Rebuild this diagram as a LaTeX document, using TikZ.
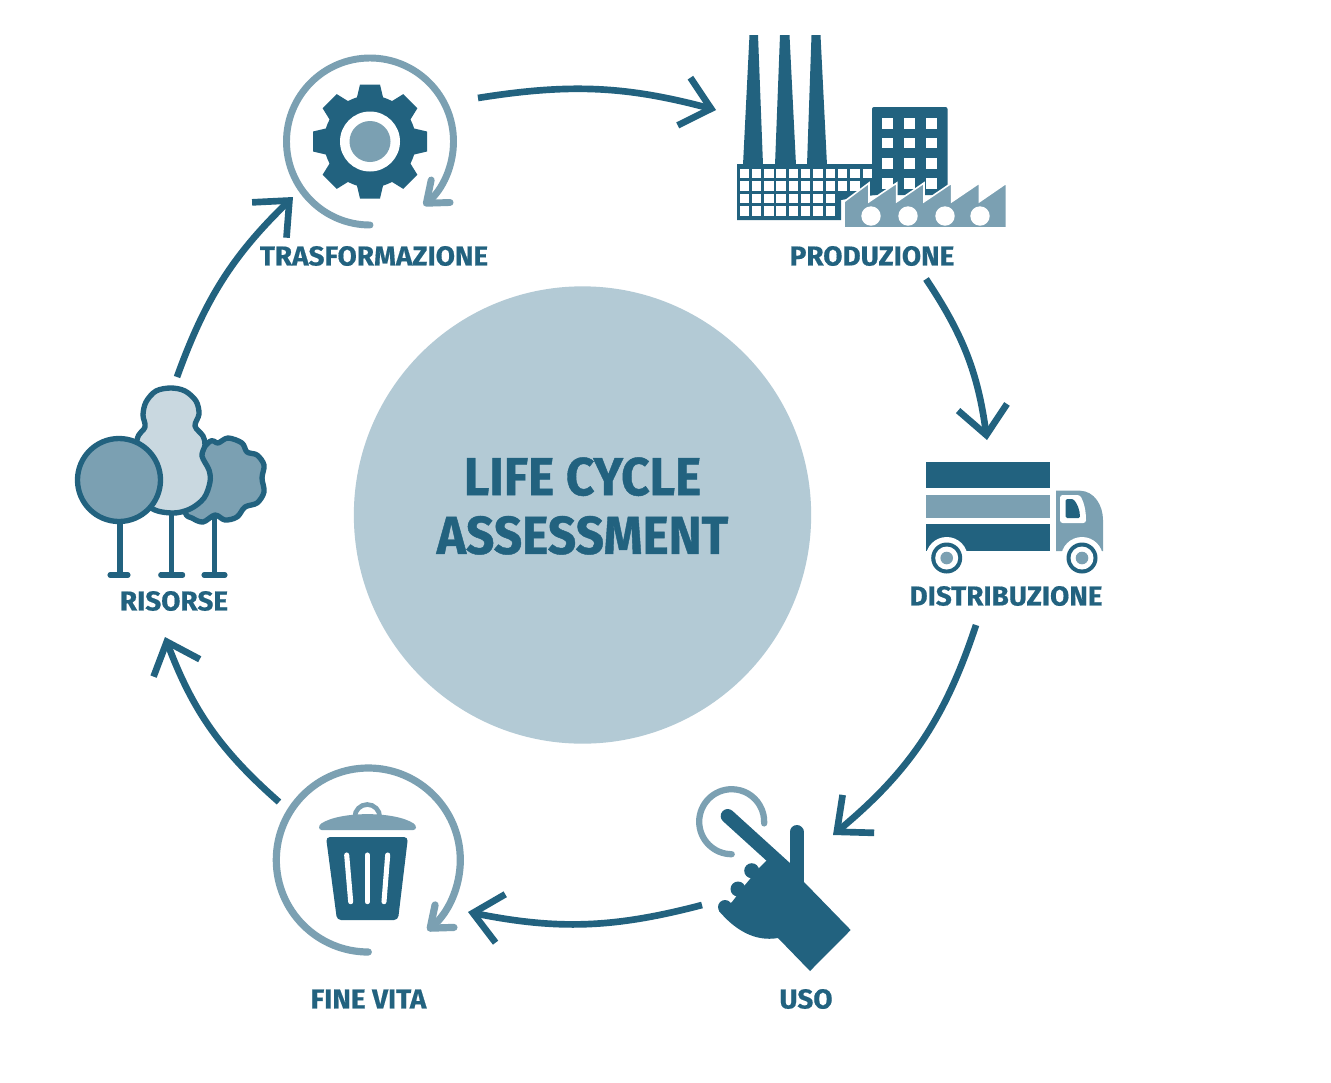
\documentclass[tikz,border=0pt]{standalone}
\usepackage{fontspec}
\setmainfont{Fira Sans}
\newfontfamily\lblfont[FakeStretch=1.02,BoldFeatures={FakeBold=0.5}]{Fira Sans}
\newfontfamily\ttlfont[FakeStretch=0.93,BoldFeatures={FakeBold=0.8}]{Fira Sans}
\usetikzlibrary{arrows.meta}
\definecolor{dk}{HTML}{22627F}
\definecolor{md}{HTML}{7BA0B2}
\definecolor{lt}{HTML}{B3CAD5}
\definecolor{pl}{HTML}{C9D8E0}
\tikzset{
  flow/.style={draw=dk,line width=5pt,-{Straight Barb[length=21pt,width=37pt]}},
  ringarrow/.style={draw=md,line width=5.2pt,line cap=round,-{Straight Barb[length=14pt,width=22pt,round]}},
  lbl/.style={text=dk,font=\lblfont\bfseries\fontsize{20.5}{22}\selectfont,inner sep=0pt,anchor=center},
  title/.style={text=dk,font=\ttlfont\bfseries\fontsize{40}{44}\selectfont,align=center,inner sep=0pt},
  disc/.style={circle,fill=lt,inner sep=0pt,minimum size=343pt},
  ds/.style={fill=dk,draw=none},
  ms/.style={fill=md,draw=none},
  ws/.style={fill=white,draw=none},
  treeline/.style={draw=dk,line width=4pt,line join=round},
  trunk/.style={draw=dk,line width=3.8pt,line cap=round},
}
\begin{document}
\begin{tikzpicture}[x=0.75pt,y=-0.75pt]
\useasboundingbox (0,0) rectangle (1331,1082);
\fill[white] (0,0) rectangle (1331,1082);

% centre
\node[disc] (centre) at (582.5,515) {};
\node[title] (ctitle) at (582.5,506) {LIFE CYCLE\\ASSESSMENT};

% labels
\node[lbl] (ltrasf) at (374,256) {TRASFORMAZIONE};
\node[lbl] (lprod) at (872,256) {PRODUZIONE};
\node[lbl] (ldist) at (1006,596) {DISTRIBUZIONE};
\node[lbl] (luso) at (806,999) {USO};
\node[lbl] (lfine) at (368.5,999) {FINE VITA};
\node[lbl] (lris) at (174,601) {RISORSE};

% connector ends
\coordinate (trasfOut) at (478,98);
\coordinate (prodIn) at (716,110);
\coordinate (prodOut) at (926,279);
\coordinate (distIn) at (987,440);
\coordinate (distOut) at (976,625);
\coordinate (usoIn) at (833,835);
\coordinate (usoOut) at (702,905);
\coordinate (fineIn) at (468,912);
\coordinate (fineOut) at (279,802);
\coordinate (risIn) at (165,637);
\coordinate (risOut) at (177,377);
\coordinate (trasfIn) at (293,197);

\draw[flow] (trasfOut) to[bend left=12] (prodIn);
\draw[flow] (prodOut) to[bend left=13] (distIn);
\draw[flow] (distOut) to[bend left=16] (usoIn);
\draw[flow] (usoOut) to[bend left=13] (fineIn);
\draw[flow] (fineOut) to[bend left=14] (risIn);
\draw[flow] (risOut) to[bend left=13] (trasfIn);

% gear
\coordinate (g) at (370,141.5);
\draw[ringarrow] (g) +(90:83.5) arc[start angle=90,end angle=410,radius=83.5];
\fill[dk] (g) circle (46);
\foreach \a in {0,45,...,315}{
  \begin{scope}[shift={(g)},rotate=\a]
    \fill[dk] (40,-14) -- (57,-10) -- (57,10) -- (40,14) -- cycle;
  \end{scope}
}
\fill[white] (g) circle (30);
\fill[md] (g) circle (20.5);

% factory
\fill[ds] (749.5,35) -- (758,35) -- (763,165) -- (743,165) -- cycle;
\fill[ds] (780,35) -- (789.5,35) -- (796,165) -- (775,165) -- cycle;
\fill[ds] (811.5,35) -- (820.5,35) -- (827,165) -- (807,165) -- cycle;
\fill[ds] (737,164) -- (875,164) -- (875,195) -- (841,200) -- (841,220) -- (737,220) -- cycle;
\foreach \r/\n in {0/11,1/10,2/8,3/8}{
  \foreach \c in {1,...,\n}{
    \fill[ws] ({739.5+12.3*(\c-1)},{168.5+12.6*\r}) rectangle +(9.4,9.4);
  }
}
\fill[ds,rounded corners=1.5] (872,107) rectangle (947.5,195);
\foreach \x in {882.3,904,926}{
  \foreach \y in {118,137.5,158,178}{
    \fill[ws] (\x,\y) rectangle +(10.5,10.5);
  }
}
\filldraw[fill=md,draw=white,line width=1.2pt,line join=miter]
  (844,228) -- (844,201.7) -- (869,183) -- (869,201.7) -- (896.7,183) -- (896.7,201.7)
  -- (924,183) -- (924,201.7) -- (951.7,183) -- (951.7,201.7) -- (979.3,183) -- (979.3,201.7)
  -- (1006.5,183) -- (1006.5,228) -- cycle;
\foreach \x in {871,908,945,980}{\fill[ws] (\x,216) circle (9.7);}

% truck
\fill[ds] (926,461.7) rectangle (1049.5,488);
\fill[ms] (926,495) rectangle (1049.5,518);
\fill[ds] (926,524) rectangle (1049.5,551);
\fill[ms] (1056,490.7) -- (1080,490.7) .. controls (1094,491) and (1103,505) .. (1103,520)
  -- (1103,551) -- (1056,551) -- cycle;
\fill[ws,rounded corners=2] (1060,495) -- (1080,495) .. controls (1084,503) and (1086,510) .. (1086,523) -- (1060,523) -- cycle;
\fill[ds,rounded corners=1] (1065.7,499) -- (1073,499) .. controls (1077,503) and (1080,510) .. (1080,518) -- (1065.7,518) -- cycle;
\foreach \x in {946.7,1082}{
  \fill[white] (\x,558) circle (21);
  \fill[dk] (\x,558) circle (15.5);
  \fill[white] (\x,558) circle (11.5);
  \fill[md] (\x,558) circle (6.3);
}

% hand
\draw[draw=md,line width=4.7pt,line cap=round] (731.7,821.7) +(90:32.5) arc[start angle=90,end angle=363,radius=32.5];
\draw[draw=dk,line width=10.5pt,line cap=round] (727.7,816) -- (785,868);
\draw[draw=dk,line width=10.5pt,line cap=round] (796.7,832) -- (796.7,885);
\fill[ds] (751.7,870.7) circle (7.5);
\fill[ds] (738,889) circle (7.5);
\fill[ds] (725,907) circle (7);
\fill[ds,line join=round] (775,852) -- (804,882) -- (850.7,930) -- (810,971) -- (778,938)
  .. controls (755,942) and (735,930) .. (719,911) -- (732,902) -- (745,885) -- (760,867) -- cycle;

% trash
\coordinate (t) at (368.3,860);
\draw[ringarrow,line width=5.4pt] (t) +(90:92) arc[start angle=90,end angle=410,radius=92];
\draw[draw=md,line width=3.5pt] (367.3,817) +(180:12.5) arc[start angle=180,end angle=360,radius=12.5];
\fill[ms,rounded corners=2] (319,830) -- (319,825) .. controls (340,811) and (395,811) .. (416,825) -- (416,830) -- cycle;
\fill[ds,rounded corners=3] (326,837) -- (408,837) -- (398,920) -- (337,920) -- cycle;
\draw[white,line width=3.8pt,line cap=round] (346.7,855) -- (350.7,901.7);
\draw[white,line width=3.8pt,line cap=round] (367.3,855) -- (367.3,901.7);
\draw[white,line width=3.8pt,line cap=round] (387.7,855) -- (384,901.7);

% trees
\draw[trunk] (214.3,515) -- (214.3,575);
\draw[trunk] (204,575) -- (225,575);
\filldraw[fill=md,treeline] plot[smooth cycle,tension=0.55] coordinates {
  (208,443)(218,443)(228,438)(242,443)(247,452)(257,455)(264,465)(262,478)(264,492)
  (257,503)(245,507)(237,517)(225,520)(215,515)(203,522)(192,518)(185,512)(180,480)};
\draw[trunk] (171.7,510) -- (171.7,575);
\draw[trunk] (160.7,575) -- (182.7,575);
\filldraw[fill=pl,treeline] plot[smooth cycle,tension=0.55] coordinates {
  (171,388)(185,391)(196,401)(199,414)(195,426)(203,436)(205,445)(202,456)(209,470)(210,482)
  (204,498)(190,509)(172,513)(150,507)(135,480)(137,440)(145,427)(143,415)(146,402)(156,391)};
\draw[trunk] (120,520) -- (120,575);
\draw[trunk] (110,575) -- (128,575);
\filldraw[fill=md,treeline] (119,480) circle (41.5);
\end{tikzpicture}
\end{document}
